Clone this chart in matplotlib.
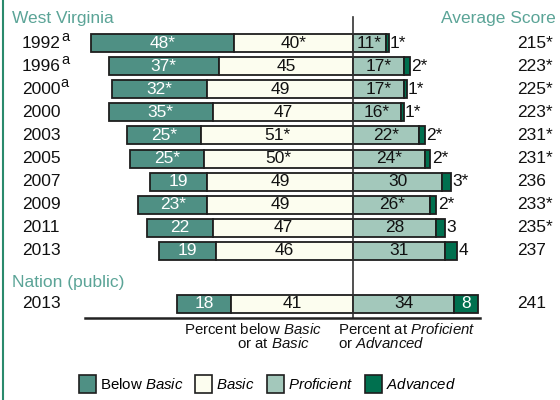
import matplotlib
matplotlib.use("Agg")
import matplotlib.pyplot as plt
from matplotlib.patches import Patch

plt.rcParams['font.family'] = ['Liberation Sans', 'DejaVu Sans']
plt.rcParams['mathtext.fontset'] = 'custom'
plt.rcParams['mathtext.rm'] = 'Liberation Sans'
plt.rcParams['mathtext.it'] = 'Liberation Sans:italic'

# ---- data ----
years = ["1992", "1996", "2000", "2000", "2003", "2005", "2007", "2009", "2011", "2013"]
year_sup = [True, True, True, False, False, False, False, False, False, False]
below_basic = [48, 37, 32, 35, 25, 25, 19, 23, 22, 19]
below_sig = [1, 1, 1, 1, 1, 1, 0, 1, 0, 0]
basic = [40, 45, 49, 47, 51, 50, 49, 49, 47, 46]
basic_sig = [1, 0, 0, 0, 1, 1, 0, 0, 0, 0]
proficient = [11, 17, 17, 16, 22, 24, 30, 26, 28, 31]
prof_sig = [1, 1, 1, 1, 1, 1, 0, 1, 0, 0]
advanced = [1, 2, 1, 1, 2, 2, 3, 2, 3, 4]
adv_sig = [1, 1, 1, 1, 1, 1, 1, 1, 0, 0]
avg_score = [215, 223, 225, 223, 231, 231, 236, 233, 235, 237]
score_sig = [1, 1, 1, 1, 1, 1, 0, 1, 1, 0]

nation_year = "2013"
nation_below, nation_basic, nation_prof, nation_adv = 18, 41, 34, 8
nation_score = 241

legend_labels = ["Below $\\mathit{Basic}$", "$\\mathit{Basic}$", "$\\mathit{Proficient}$", "$\\mathit{Advanced}$"]

# ---- style ----
C_BELOW = "#4f9084"
C_BASIC = "#fcfdef"
C_PROF = "#a3c8bb"
C_ADV = "#00704f"
C_HEAD = "#5ba497"
EDGE = "#1e1e1e"
FS = 12.5

fig = plt.figure(figsize=(5.6, 4.0), dpi=100)
ax = fig.add_axes([0, 0, 1, 1])
ax.axis('off')

X0, SX = 353.0, 2.98
Y0, SY = 43.0, 23.1
def px(x):
    return (x - X0) / SX
def py(y):
    return (y - Y0) / SY

ax.set_xlim(px(0), px(560))
ax.set_ylim(py(400), py(0))

rows = list(range(len(years)))
nation_row = py(304)
bh = 18 / SY

def star(v, s):
    return f"{v}{'*' if s else ''}"

def draw_row(r, b, ba, p, a, bs, bas, ps, as_, adv_inside=False):
    ax.barh(r, b, left=-(b + ba), height=bh, color=C_BELOW, edgecolor=EDGE, linewidth=1.3)
    ax.barh(r, ba, left=-ba, height=bh, color=C_BASIC, edgecolor=EDGE, linewidth=1.3)
    ax.barh(r, p, left=0, height=bh, color=C_PROF, edgecolor=EDGE, linewidth=1.3)
    ax.barh(r, a, left=p, height=bh, color=C_ADV, edgecolor=EDGE, linewidth=1.3)
    ax.text(-(ba + b / 2), r, star(b, bs), ha='center', va='center', color='white', fontsize=FS)
    ax.text(-ba / 2, r, star(ba, bas), ha='center', va='center', color='#111111', fontsize=FS)
    ax.text(p / 2, r, star(p, ps), ha='center', va='center', color='#111111', fontsize=FS)
    if adv_inside:
        ax.text(p + a / 2, r, star(a, as_), ha='center', va='center', color='white', fontsize=FS)
    else:
        ax.text(p + a + 0.4, r, star(a, as_), ha='left', va='center', color='#111111', fontsize=FS)

for i in rows:
    draw_row(i, below_basic[i], basic[i], proficient[i], advanced[i],
             below_sig[i], basic_sig[i], prof_sig[i], adv_sig[i])
    t = ax.text(px(22), i, years[i], ha='left', va='center', color='#111111', fontsize=FS)
    if year_sup[i]:
        ax.annotate("a", xy=(1, 0.45), xycoords=t, xytext=(0, 0), textcoords='offset points',
                    ha='left', va='bottom', fontsize=10.5, color='#111111')
    ax.text(px(517), i, star(avg_score[i], score_sig[i]), ha='left', va='center',
            color='#111111', fontsize=FS)

draw_row(nation_row, nation_below, nation_basic, nation_prof, nation_adv, 0, 0, 0, 0, adv_inside=True)
ax.text(px(22), nation_row, nation_year, ha='left', va='center', color='#111111', fontsize=FS)
ax.text(px(517), nation_row, str(nation_score), ha='left', va='center', color='#111111', fontsize=FS)

# headings
ax.text(px(12), py(18), "West Virginia", ha='left', va='center', color=C_HEAD, fontsize=FS)
ax.text(px(556), py(18), "Average Score", ha='right', va='center', color=C_HEAD, fontsize=FS)
ax.text(px(12), py(282), "Nation (public)", ha='left', va='center', color=C_HEAD, fontsize=FS)

# center line and baseline
ax.plot([0, 0], [py(17), py(318)], color='#333333', lw=1.2, zorder=5)
ax.plot([px(85), px(480)], [py(318), py(318)], color='#222222', lw=1.8, zorder=5)

# axis captions
CFS = 10.8
ax.text(px(322), py(330), "Percent below $\\mathit{Basic}$", ha='right', va='center', fontsize=CFS, color='#111111')
ax.text(px(310), py(344), "or at $\\mathit{Basic}$", ha='right', va='center', fontsize=CFS, color='#111111')
ax.text(px(338), py(330), "Percent at $\\mathit{Proficient}$", ha='left', va='center', fontsize=CFS, color='#111111')
ax.text(px(338), py(344), "or $\\mathit{Advanced}$", ha='left', va='center', fontsize=CFS, color='#111111')

# left border
ax.plot([px(3), px(3)], [py(0), py(400)], color='#2a8a6c', lw=1.5, clip_on=False)

# legend
handles = [Patch(facecolor=c, edgecolor=EDGE, linewidth=1.2) for c in (C_BELOW, C_BASIC, C_PROF, C_ADV)]
leg = fig.legend(handles, legend_labels, loc='center', bbox_to_anchor=(267 / 560, 1 - 384 / 400),
                 ncol=4, frameon=False, fontsize=10.8, handlelength=1.15, handleheight=1.4,
                 handletextpad=0.25, columnspacing=0.8, borderaxespad=0)

fig.savefig("out.png", dpi=100)
